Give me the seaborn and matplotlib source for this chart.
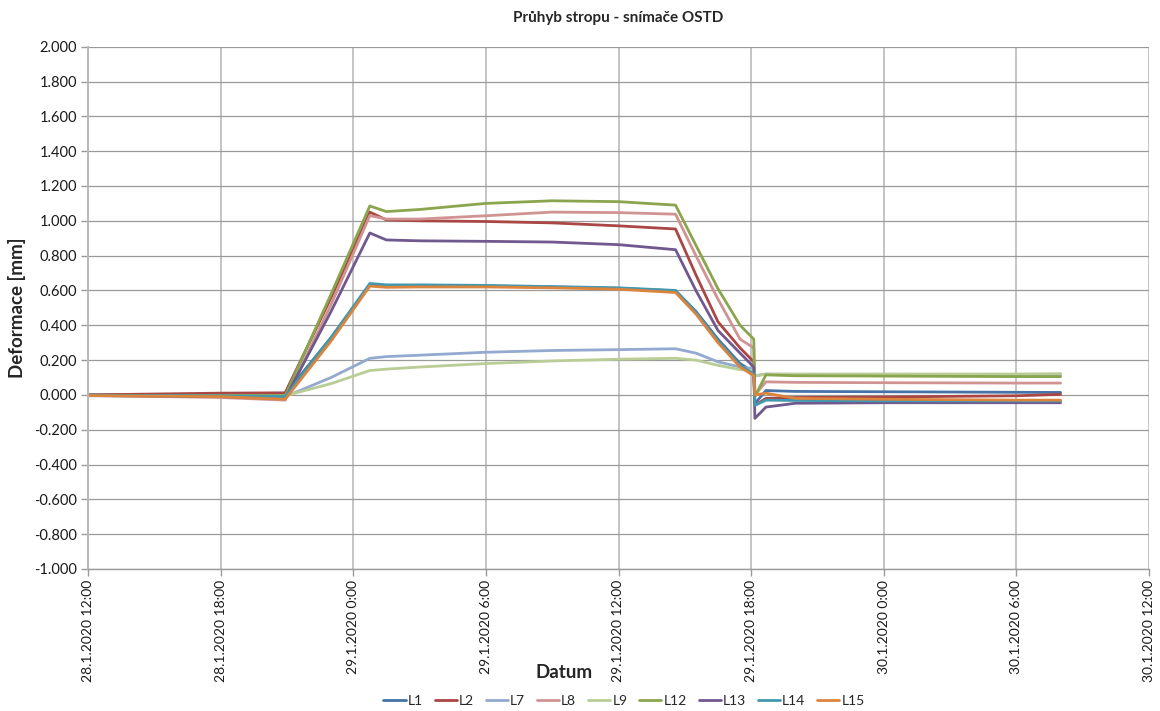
import matplotlib
matplotlib.use("Agg")
import matplotlib.pyplot as plt
import matplotlib.dates as mdates
from matplotlib.ticker import FuncFormatter, MultipleLocator
import numpy as np
import pandas as pd
import seaborn as sns

# Knot times of the deflection record (hours after 28.1.2020 12:00)
hours = [0.0, 6.0, 8.92, 11.0, 12.75, 13.5, 15.0, 18.0, 21.0, 24.0, 26.58,
         27.5, 28.5, 29.5, 30.12, 30.17, 30.67, 32.0, 36.0, 42.0, 44.0]

# Sensor readings [mm] at the knot times
L1  = [0.000, 0.002, 0.005, 0.330, 0.630, 0.625, 0.625, 0.625, 0.620, 0.612, 0.598,
       0.480, 0.320, 0.180, 0.130, -0.050, 0.025, 0.020, 0.018, 0.015, 0.014]
L2  = [0.000, 0.010, 0.012, 0.560, 1.050, 1.005, 1.000, 0.996, 0.988, 0.971, 0.953,
       0.690, 0.420, 0.270, 0.190, -0.060, -0.020, -0.015, -0.012, -0.005, 0.003]
L7  = [-0.005, -0.008, -0.010, 0.100, 0.210, 0.220, 0.228, 0.245, 0.255, 0.260, 0.265,
       0.240, 0.190, 0.160, 0.150, 0.110, 0.120, 0.118, 0.116, 0.115, 0.115]
L8  = [-0.003, -0.015, -0.030, 0.520, 1.030, 1.010, 1.010, 1.029, 1.050, 1.047, 1.038,
       0.800, 0.550, 0.320, 0.270, 0.000, 0.075, 0.072, 0.070, 0.068, 0.068]
L9  = [-0.003, -0.005, -0.005, 0.065, 0.140, 0.148, 0.160, 0.180, 0.195, 0.205, 0.210,
       0.200, 0.170, 0.145, 0.140, 0.110, 0.118, 0.120, 0.120, 0.120, 0.122]
L12 = [-0.002, -0.004, -0.005, 0.580, 1.085, 1.053, 1.065, 1.100, 1.115, 1.110, 1.090,
       0.860, 0.610, 0.400, 0.320, -0.010, 0.115, 0.110, 0.108, 0.105, 0.105]
L13 = [-0.003, -0.010, -0.020, 0.480, 0.930, 0.890, 0.885, 0.882, 0.878, 0.863, 0.834,
       0.600, 0.370, 0.240, 0.160, -0.135, -0.070, -0.048, -0.045, -0.045, -0.045]
L14 = [-0.002, -0.006, -0.010, 0.330, 0.640, 0.632, 0.632, 0.629, 0.622, 0.615, 0.600,
       0.475, 0.310, 0.170, 0.120, -0.060, -0.030, -0.032, -0.034, -0.035, -0.035]
L15 = [-0.004, -0.010, -0.025, 0.310, 0.625, 0.618, 0.620, 0.620, 0.615, 0.607, 0.588,
       0.465, 0.300, 0.160, 0.110, 0.000, 0.010, -0.020, -0.025, -0.030, -0.030]

series_names = ["L1", "L2", "L7", "L8", "L9", "L12", "L13", "L14", "L15"]
series_values = [L1, L2, L7, L8, L9, L12, L13, L14, L15]
colors = ["#4572A7", "#AA4643", "#93A9CF", "#D19392", "#B9CD96",
          "#89A54E", "#71588F", "#4198AF", "#DB843D"]

start = pd.Timestamp("2020-01-28 12:00")
times = [start + pd.Timedelta(hours=h) for h in hours]

frames = []
for name, vals in zip(series_names, series_values):
    frames.append(pd.DataFrame({"Datum": times, "Deformace": vals, "Snímač": name}))
data = pd.concat(frames, ignore_index=True)

sns.set_theme(style="white")
plt.rcParams["font.family"] = ["Lato", "DejaVu Sans"]

fig = plt.figure(figsize=(11.6, 7.11), dpi=100)
ax = fig.add_axes([88 / 1160, 1 - 569 / 711, (1149 - 88) / 1160, (569 - 46.7) / 711])

sns.lineplot(data=data, x="Datum", y="Deformace", hue="Snímač",
             hue_order=series_names, palette=dict(zip(series_names, colors)),
             estimator=None, sort=False, linewidth=2.0, ax=ax, legend=True)

ax.set_xlim(pd.Timestamp("2020-01-28 12:00"), pd.Timestamp("2020-01-30 12:00"))
ax.set_ylim(-1.0, 2.0)
ax.yaxis.set_major_locator(MultipleLocator(0.2))
ax.yaxis.set_major_formatter(FuncFormatter(lambda v, p: f"{v:.3f}"))
ax.xaxis.set_major_locator(mdates.HourLocator(byhour=[0, 6, 12, 18]))


def date_label(v, pos):
    d = mdates.num2date(v)
    return f"{d.day}.{d.month}.{d.year} {d.hour}:{d.minute:02d}"


ax.xaxis.set_major_formatter(FuncFormatter(date_label))

ax.grid(True, axis="y", color="#9a9a9a", linewidth=0.9)
ax.grid(True, axis="x", color="#c4c4c4", linewidth=1.4)
ax.set_axisbelow(True)
for side in ["top", "right"]:
    ax.spines[side].set_visible(False)
ax.spines["left"].set_color("#b8b8b8")
ax.spines["left"].set_linewidth(1.4)
ax.spines["bottom"].set_color("#9a9a9a")
ax.spines["bottom"].set_linewidth(1.0)

ax.tick_params(axis="both", which="major", length=5, width=1.0, color="#9a9a9a",
               labelsize=10.5, labelcolor="#1a1a1a", bottom=True, left=True, pad=3)
for lbl in ax.get_xticklabels():
    lbl.set_rotation(90)
    lbl.set_fontsize(10)

ax.set_xlabel("")
ax.set_ylabel("Deformace [mm]", fontsize=13.5, fontweight="bold", labelpad=6)
fig.text(564 / 1160, 1 - 672 / 711, "Datum", ha="center", va="center",
         fontsize=13.5, fontweight="bold")
fig.text(618 / 1160, 1 - 18 / 711, "Průhyb stropu - snímače OSTD", ha="center",
         va="center", fontsize=11, fontweight="bold")

handles, labels = ax.get_legend_handles_labels()
ax.legend_.remove()
fig.legend(handles, labels, loc="center", bbox_to_anchor=(624 / 1160, 1 - 701 / 711),
           ncol=9, frameon=False, fontsize=10, handlelength=1.6, handletextpad=0.15,
           columnspacing=0.85)

fig.savefig("out.png", dpi=100)
